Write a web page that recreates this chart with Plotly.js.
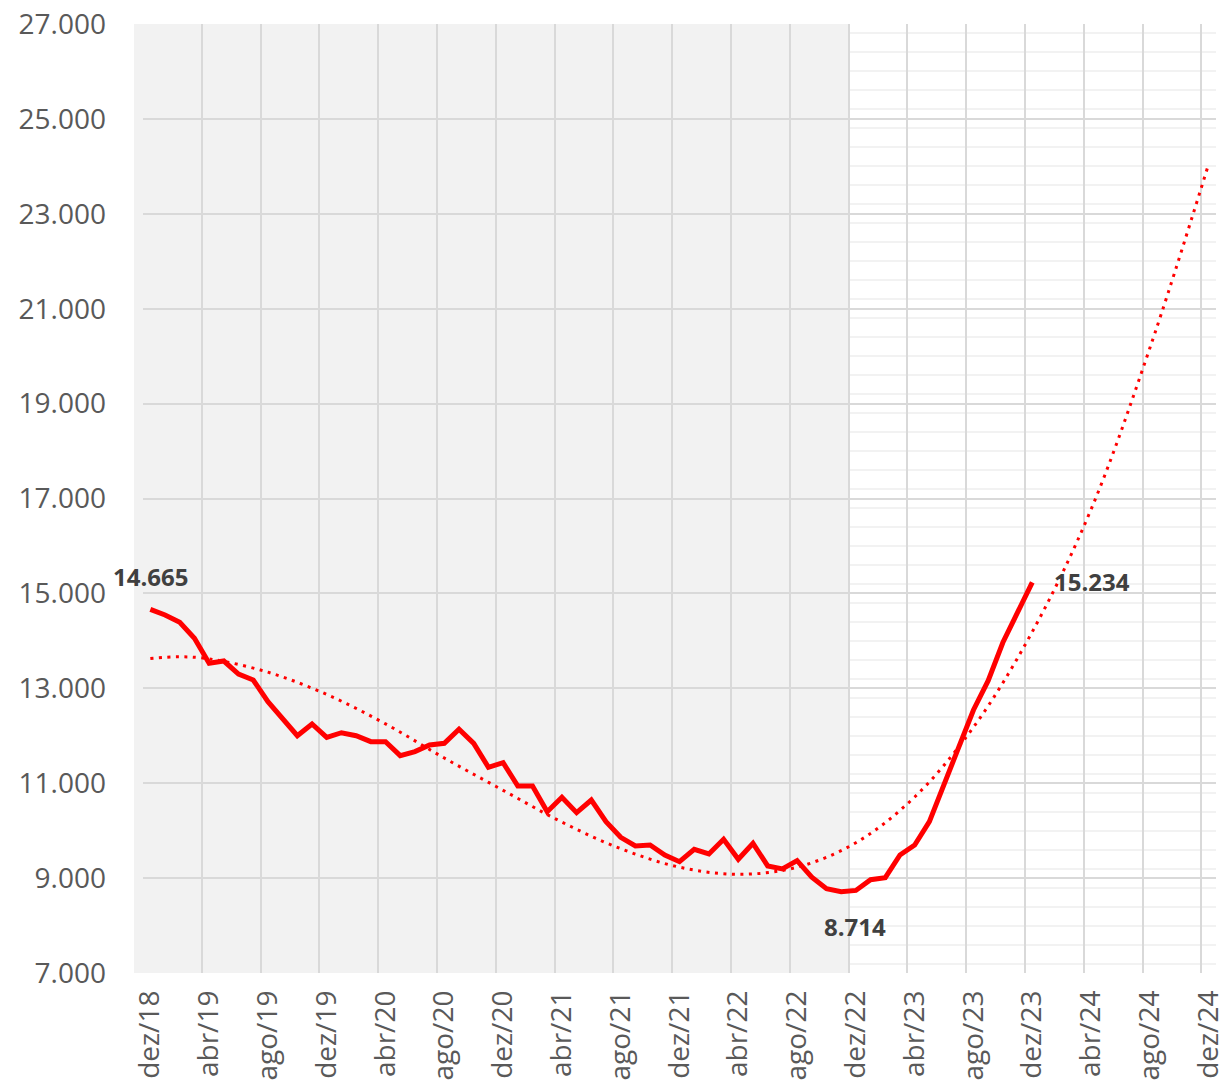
<!DOCTYPE html>
<html>
<head>
<meta charset="utf-8">
<script src="https://cdn.plot.ly/plotly-3.0.1.min.js"></script>
<style>
html,body{margin:0;padding:0;background:#ffffff;}
#chart{width:1225px;height:1085px;}
</style>
</head>
<body>
<div id="chart"></div>
<script>
// ---- data ----
const monthNames = ['jan','fev','mar','abr','mai','jun','jul','ago','set','out','nov','dez'];
const categories = ['dez/18'];
for (let yr = 19; yr <= 24; yr++) {
  for (let m = 0; m < 12; m++) categories.push(monthNames[m] + '/' + yr);
}
// monthly series, dez/18 .. dez/23
const values = [
  14665, 14545, 14390, 14053, 13526, 13575, 13301, 13175, 12718, 12367,
  12001, 12248, 11967, 12064, 12001, 11875, 11875, 11580, 11665, 11805,
  11840, 12136, 11840, 11335, 11433, 10941, 10941, 10400, 10703, 10379,
  10646, 10190, 9860, 9677, 9698, 9487, 9346, 9607, 9508, 9818,
  9396, 9734, 9256, 9193, 9367, 9020, 8775, 8714, 8740, 8965,
  9010, 9487, 9698, 10190, 10950, 11760, 12543, 13160, 13965, 14600,
  15234
];
// trendline values
const trendMonths = ['dez/18','fev/19','abr/19','ago/19','dez/19','abr/20','ago/20','dez/20','abr/21','ago/21',
  'dez/21','abr/22','ago/22','dez/22','abr/23','ago/23','dez/23','abr/24','ago/24','dez/24'];
const trendValues = [13630, 13665, 13620, 13340, 12870, 12250, 11530, 10850, 10180, 9620,
  9230, 9080, 9230, 9745, 10710, 12180, 14190, 16770, 20170, 24050];
const shadeEndMonth = 'dez/22';

// ---- helpers ----
function fmt(v) { return String(Math.round(v)).replace(/\B(?=(\d{3})+(?!\d))/g, '.'); }

const seriesX = categories.slice(0, values.length);
const minIdx = values.indexOf(Math.min.apply(null, values));
const lastIdx = values.length - 1;

const xRange = [-0.5, categories.length - 0.5];
const shadeEndPaper = (categories.indexOf(shadeEndMonth) - 0.5 - xRange[0]) / (xRange[1] - xRange[0]);

const red = '#ff0000';
const labelFont = {family: 'Open Sans, sans-serif', size: 24, color: '#404040', weight: 700};

const traces = [
  {
    x: seriesX, y: values, type: 'scatter', mode: 'lines',
    line: {color: red, width: 5},
    hoverinfo: 'skip', showlegend: false
  },
  {
    x: trendMonths, y: trendValues, type: 'scatter', mode: 'lines',
    line: {color: red, width: 3, dash: '3px,5.5px', shape: 'spline', smoothing: 1},
    hoverinfo: 'skip', showlegend: false
  }
];

const layout = {
  width: 1225, height: 1085,
  margin: {l: 143, r: 9, t: 24, b: 112},
  paper_bgcolor: '#ffffff', plot_bgcolor: '#ffffff',
  separators: ',.',
  font: {family: 'Open Sans, sans-serif', color: '#595959'},
  showlegend: false,
  xaxis: {
    type: 'category',
    categoryorder: 'array', categoryarray: categories,
    range: xRange,
    tickmode: 'linear', tick0: 0, dtick: 4,
    tickson: 'boundaries',
    ticks: '',
    tickangle: -90,
    tickfont: {size: 28, color: '#595959', family: 'Open Sans, sans-serif'},
    ticklabelstandoff: 11,
    showgrid: true, gridcolor: '#d9d9d9', gridwidth: 2,
    showline: false, zeroline: false,
    fixedrange: true
  },
  yaxis: {
    range: [7000, 27000],
    tickmode: 'linear', tick0: 7000, dtick: 2000,
    tickformat: ',.0f',
    ticks: '',
    tickfont: {size: 28, color: '#595959', family: 'Open Sans, sans-serif'},
    ticklabelstandoff: 36,
    showgrid: true, gridcolor: '#d9d9d9', gridwidth: 2,
    minor: {dtick: 400, showgrid: true, gridcolor: '#f2f2f2', gridwidth: 2},
    showline: false, zeroline: false,
    fixedrange: true
  },
  shapes: [
    {
      type: 'rect', layer: 'below',
      xref: 'paper', yref: 'paper',
      x0: -0.0084, x1: shadeEndPaper, y0: 0, y1: 1,
      fillcolor: '#f2f2f2', line: {width: 0}
    }
  ],
  annotations: [
    {x: seriesX[0], y: values[0], text: fmt(values[0]), showarrow: false,
     xanchor: 'center', yanchor: 'middle', yshift: 33, font: labelFont},
    {x: seriesX[minIdx], y: values[minIdx], text: fmt(values[minIdx]), showarrow: false,
     xanchor: 'center', yanchor: 'middle', xshift: 14, yshift: -35, font: labelFont},
    {x: seriesX[lastIdx], y: values[lastIdx], text: fmt(values[lastIdx]), showarrow: false,
     xanchor: 'center', yanchor: 'middle', xshift: 60, yshift: 1, font: labelFont}
  ]
};

Plotly.newPlot('chart', traces, layout, {displayModeBar: false, staticPlot: true});
</script>
</body>
</html>
